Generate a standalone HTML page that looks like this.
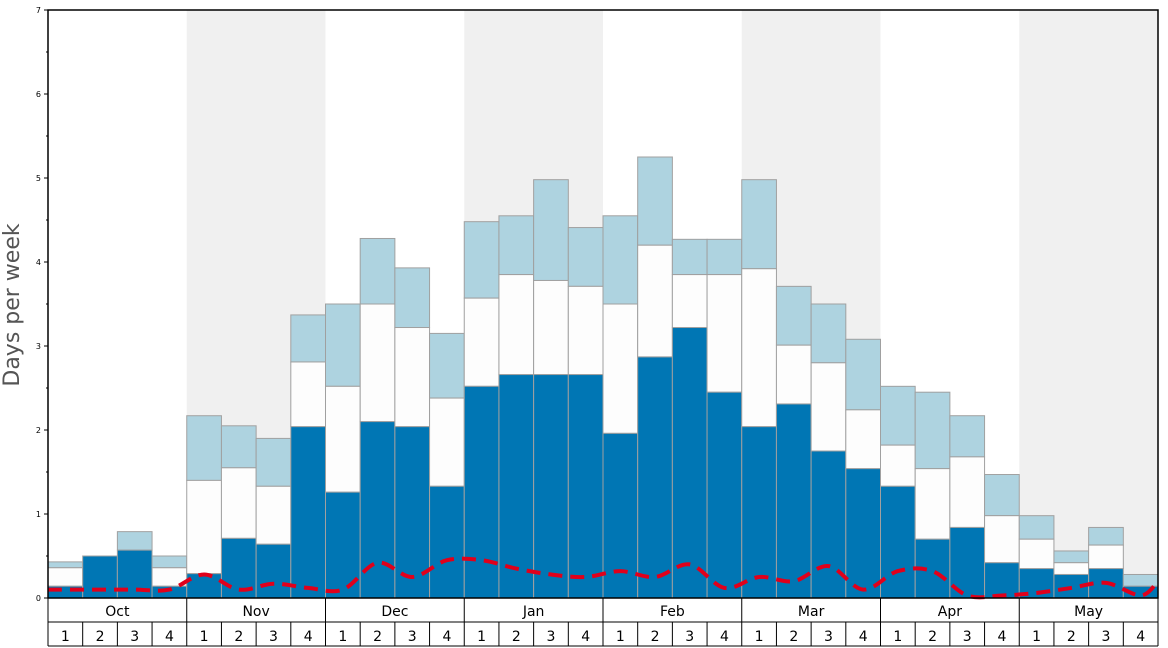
<!DOCTYPE html>
<html><head><meta charset="utf-8"><style>
html,body{margin:0;padding:0;background:#fff;}
svg{display:block;font-family:"DejaVu Sans","Liberation Sans",sans-serif;}
</style></head><body>
<svg id="c" width="1168" height="648" viewBox="0 0 1168 648" xmlns="http://www.w3.org/2000/svg"></svg>
<script>
const s=document.getElementById('c');let h='';
const L=48,R=1158,T=10,B=598,U=84,W=(R-L)/32;
const y=v=>B-v*U;
for(let m=0;m<8;m++){if(m%2==1)h+=`<rect x="${L+m*4*W}" y="${T}" width="${4*W}" height="${B-T}" fill="#f0f0f0"/>`;}
const d=[[0.14,0.36,0.43],[0.5,0.5,0.5],[0.57,0.57,0.79],[0.14,0.36,0.5],
[0.29,1.4,2.17],[0.71,1.55,2.05],[0.64,1.33,1.9],[2.04,2.81,3.37],
[1.26,2.52,3.5],[2.1,3.5,4.28],[2.04,3.22,3.93],[1.33,2.38,3.15],
[2.52,3.57,4.48],[2.66,3.85,4.55],[2.66,3.78,4.98],[2.66,3.71,4.41],
[1.96,3.5,4.55],[2.87,4.2,5.25],[3.22,3.85,4.27],[2.45,3.85,4.27],
[2.04,3.92,4.98],[2.31,3.01,3.71],[1.75,2.8,3.5],[1.54,2.24,3.08],
[1.33,1.82,2.52],[0.7,1.54,2.45],[0.84,1.68,2.17],[0.42,0.98,1.47],
[0.35,0.7,0.98],[0.28,0.42,0.56],[0.35,0.63,0.84],[0.14,0.14,0.28]];
d.forEach((b,i)=>{const x=L+i*W;
h+=`<rect x="${x}" y="${y(b[2])}" width="${W}" height="${(b[2]-b[1])*U}" fill="#aed3e0" stroke="#a0a0a0" stroke-width="1"/>`;
h+=`<rect x="${x}" y="${y(b[1])}" width="${W}" height="${(b[1]-b[0])*U}" fill="#fdfdfd" stroke="#a0a0a0" stroke-width="1"/>`;
h+=`<rect x="${x}" y="${y(b[0])}" width="${W}" height="${b[0]*U}" fill="#0076b4" stroke="#a0a0a0" stroke-width="1"/>`;});
const r=[0.1,0.1,0.1,0.1,0.28,0.1,0.17,0.12,0.1,0.42,0.25,0.45,0.45,0.35,0.28,0.25,0.32,0.25,0.4,0.12,0.25,0.2,0.38,0.1,0.32,0.32,0.03,0.03,0.06,0.12,0.18,0.03];
let P=[[L,y(0.1)]];r.forEach((v,i)=>P.push([L+(i+0.5)*W,y(v)]));P.push([R,y(0.2)]);
let path=`M${P[0][0]},${P[0][1]}`;
for(let i=0;i<P.length-1;i++){const p0=P[Math.max(0,i-1)],p1=P[i],p2=P[i+1],p3=P[Math.min(P.length-1,i+2)];
const c1=[p1[0]+(p2[0]-p0[0])/6,p1[1]+(p2[1]-p0[1])/6],c2=[p2[0]-(p3[0]-p1[0])/6,p2[1]-(p3[1]-p1[1])/6];
path+=` C${c1[0]},${c1[1]} ${c2[0]},${c2[1]} ${p2[0]},${p2[1]}`;}
h+=`<path d="${path}" fill="none" stroke="#e0001b" stroke-width="4" stroke-dasharray="14,8"/>`;
for(let v=0;v<=7;v++){h+=`<line x1="${L-4}" x2="${L}" y1="${y(v)}" y2="${y(v)}" stroke="#000"/>`;h+=`<text x="${L-7}" y="${y(v)+3}" font-size="8" text-anchor="end">${v}</text>`;
if(v<7)h+=`<line x1="${L-2}" x2="${L}" y1="${y(v+0.5)}" y2="${y(v+0.5)}" stroke="#000"/>`;}
h+=`<text transform="translate(19,305) rotate(-90)" font-size="22" fill="#555" text-anchor="middle">Days per week</text>`;
h+=`<rect x="${L}" y="${T}" width="${R-L}" height="${B-T}" fill="none" stroke="#000" stroke-width="1.5"/>`;
const ms=['Oct','Nov','Dec','Jan','Feb','Mar','Apr','May'];
h+=`<line x1="${L}" x2="${R}" y1="622" y2="622" stroke="#000"/><line x1="${L}" x2="${R}" y1="646" y2="646" stroke="#000"/>`;
h+=`<line x1="${L}" x2="${L}" y1="${B}" y2="646" stroke="#000"/><line x1="${R}" x2="${R}" y1="${B}" y2="646" stroke="#000"/>`;
ms.forEach((m,i)=>{const x=L+i*4*W;if(i>0)h+=`<line x1="${x}" x2="${x}" y1="${B}" y2="646" stroke="#000"/>`;
h+=`<text x="${x+2*W}" y="616" font-size="14" text-anchor="middle">${m}</text>`;
for(let k=0;k<4;k++){const xx=x+k*W;if(k>0)h+=`<line x1="${xx}" x2="${xx}" y1="622" y2="646" stroke="#000"/>`;
h+=`<text x="${xx+W/2}" y="641" font-size="14" text-anchor="middle">${k+1}</text>`;}});
s.innerHTML=h;
</script>
</body></html>
